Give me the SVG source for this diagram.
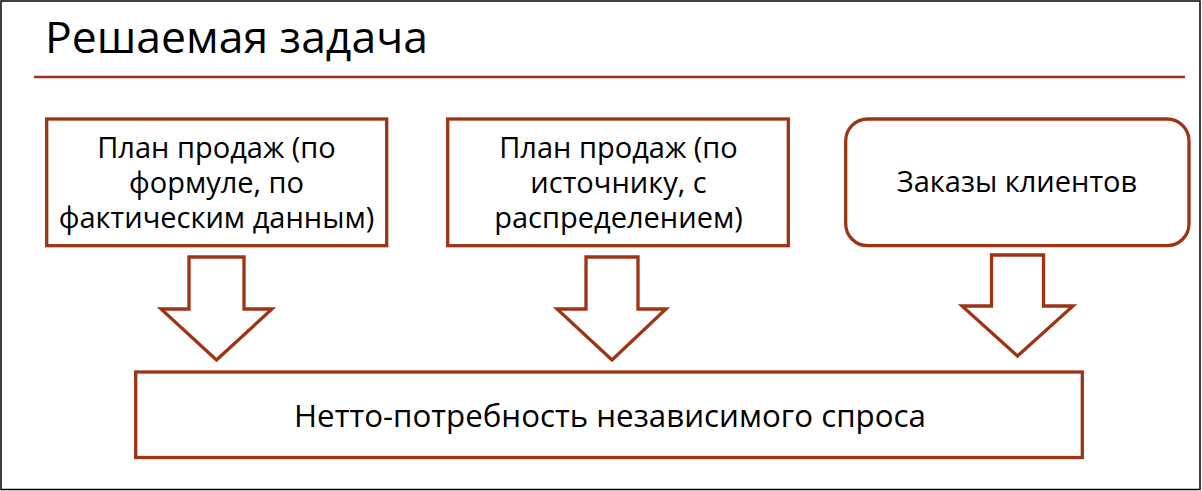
<svg xmlns="http://www.w3.org/2000/svg" width="1202" height="491" viewBox="0 0 1202 491">
<style>
.box{fill:#fff;stroke:#9E3415;stroke-width:3.3}
.arr{fill:#fff;stroke:#9E3415;stroke-width:3.3;stroke-linejoin:miter}
.t{font-family:"Open Sans","DejaVu Sans",sans-serif;font-size:29px;fill:#000;text-anchor:middle}
</style>
<rect x="0" y="0" width="1202" height="491" fill="#fff"/>
<rect x="1" y="1" width="1199" height="488.5" fill="none" stroke="#000" stroke-width="1.5"/>
<g id="title">
<text x="45" y="53" font-family="Open Sans, DejaVu Sans, sans-serif" font-size="44.5" fill="#000">Решаемая задача</text>
<line x1="34" y1="77" x2="1185" y2="77" stroke="#9E3415" stroke-width="2.5"/>
</g>
<g id="connectors">
<path class="arr" d="M189,257 H244 V309 H272 L216.5,360 L161,309 H189 Z"/>
<path class="arr" d="M586,257 H638 V309 H666 L612,360 L557,309 H586 Z"/>
<path class="arr" d="M991.5,255 H1043.5 V306 H1073 L1017.5,356 L962,306 H991.5 Z"/>
</g>
<g id="node1">
<rect class="box" x="46.7" y="119" width="340" height="126.7"/>
<text class="t" x="216.5" y="158"><tspan x="216.5" y="158">План продаж (по</tspan><tspan x="216.5" y="193">формуле, по</tspan><tspan x="216.5" y="228">фактическим данным)</tspan></text>
</g>
<g id="node2">
<rect class="box" x="447.7" y="119" width="340.6" height="126.7"/>
<text class="t" x="618.5" y="158"><tspan x="618.5" y="158">План продаж (по</tspan><tspan x="618.5" y="193">источнику, с</tspan><tspan x="618.5" y="228">распределением)</tspan></text>
</g>
<g id="node3">
<rect class="box" x="845.7" y="119" width="343.3" height="126.7" rx="22" ry="22"/>
<text class="t" x="1017" y="192">Заказы клиентов</text>
</g>
<g id="node4">
<rect class="box" x="135.7" y="372" width="946.6" height="85.5"/>
<text class="t" x="610" y="426.5" style="font-size:31.3px">Нетто-потребность независимого спроса</text>
</g>
</svg>
